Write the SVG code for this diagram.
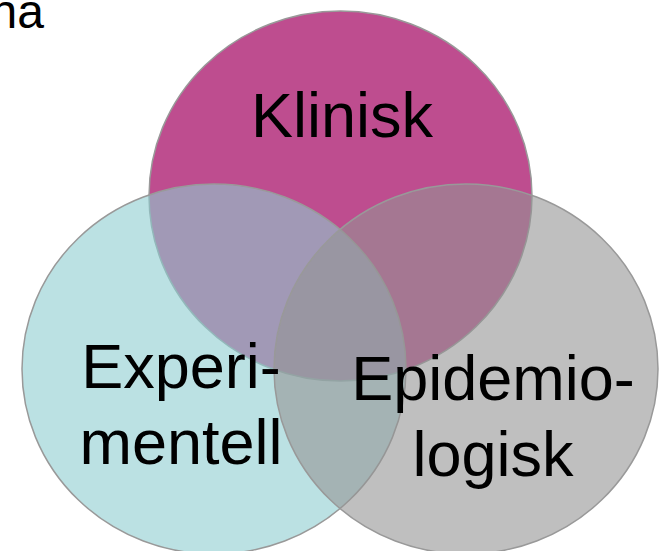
<svg xmlns="http://www.w3.org/2000/svg" width="660" height="551" viewBox="0 0 660 551">
<style>
.c{stroke:#999999;stroke-width:1.5}
.t{font-family:"Liberation Sans",Arial,sans-serif;font-size:63px;fill:#000;text-anchor:middle}
</style>
<rect width="660" height="551" fill="#ffffff"/>
<text x="44" y="28" style="font-family:'Liberation Sans',Arial,sans-serif;font-size:48px;fill:#000;text-anchor:end">na</text>
<g id="klinisk">
<ellipse class="c" cx="340.5" cy="196" rx="191.5" ry="185" fill="#BE4D8F"/>
</g>
<g id="experimentell">
<ellipse class="c" cx="214" cy="369" rx="192" ry="185" fill="#8ECDD0" fill-opacity="0.6"/>
</g>
<g id="epidemiologisk">
<ellipse class="c" cx="466" cy="369" rx="192" ry="185" fill="#949494" fill-opacity="0.6"/>
</g>
<g id="labels">
<text class="t" x="342" y="137">Klinisk</text>
<text class="t" x="181" y="388">Experi-</text>
<text class="t" x="181" y="464">mentell</text>
<text class="t" x="493" y="400">Epidemio-</text>
<text class="t" x="493" y="476">logisk</text>
</g>
</svg>
